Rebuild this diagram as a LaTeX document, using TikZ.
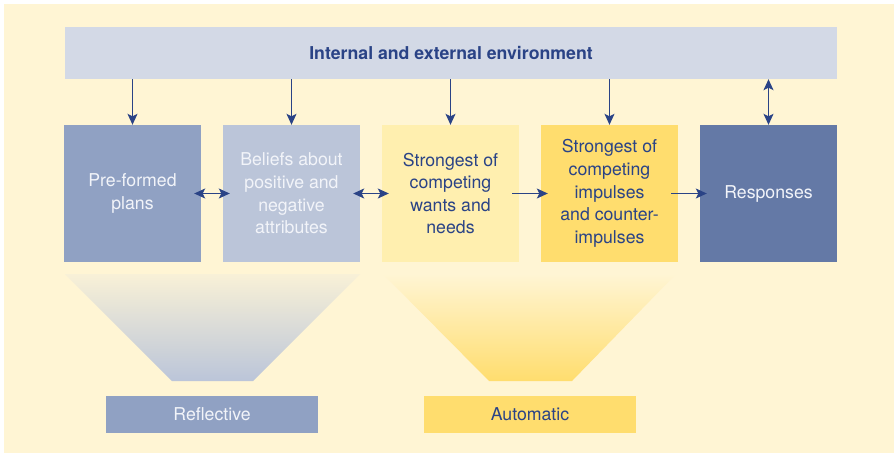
\documentclass[tikz,border=0pt]{standalone}
\usepackage{fontspec}
\setmainfont{TeX Gyre Heros}
\usepackage{tikz}
\usetikzlibrary{arrows.meta,positioning}

\definecolor{cream}{HTML}{FFF5D4}
\definecolor{envblue}{HTML}{D3D9E6}
\definecolor{planblue}{HTML}{90A1C3}
\definecolor{beliefblue}{HTML}{BBC5D9}
\definecolor{wantyellow}{HTML}{FFEFAF}
\definecolor{impulseyellow}{HTML}{FFDD6E}
\definecolor{respblue}{HTML}{6479A6}
\definecolor{ink}{HTML}{2A4386}
\definecolor{paletext}{HTML}{F2F4F9}

\begin{document}
\begin{tikzpicture}[x=1pt, y=-1pt, node distance=159pt,
  every node/.style={font=\fontsize{17.7}{22.6}\selectfont},
  box/.style={rectangle, minimum width=137pt, minimum height=137pt, inner sep=0pt, align=center},
  tag/.style={rectangle, minimum width=212pt, minimum height=37pt, inner sep=0pt},
  link/.style={ink, line width=1.2pt, -{Stealth[length=11pt,width=10pt,inset=2.5pt]}},
  twolink/.style={ink, line width=1.2pt, {Stealth[length=11pt,width=10pt,inset=2.5pt]}-{Stealth[length=11pt,width=10pt,inset=2.5pt]}},
  side/.style={shorten <=-7pt, shorten >=-7pt}]
  \useasboundingbox (0,0) rectangle (894,453);
  \fill[white] (0,0) rectangle (894,453);
  \fill[cream] (4,4) rectangle (894,453);

  \node (env) [rectangle, fill=envblue, minimum width=772pt, minimum height=52pt, inner sep=0pt,
    text=ink, font=\fontsize{17.7}{20}\selectfont\bfseries] at (451,53) {Internal and external environment};

  \node (plans) [box, fill=planblue, text=paletext] at (132.5,193.5) {Pre-formed\\plans};
  \node (beliefs) [box, fill=beliefblue, text=paletext, right of=plans] {Beliefs about\\positive and\\negative\\attributes};
  \node (wants) [box, fill=wantyellow, text=ink, right of=beliefs] {Strongest of\\competing\\wants and\\needs};
  \node (impulses) [box, fill=impulseyellow, text=ink, right of=wants] {Strongest of\\competing\\impulses\\and counter-\\impulses};
  \node (resp) [box, fill=respblue, text=paletext, right of=impulses] {Responses};

  % environment feeds every stage
  \draw[link] (env.south -| plans) -- (plans);
  \draw[link] (env.south -| beliefs) -- (beliefs);
  \draw[link] (env.south -| wants) -- (wants);
  \draw[link] (env.south -| impulses) -- (impulses);
  \draw[twolink] (env.south -| resp) -- (resp);

  \draw[twolink, side] (plans) -- (beliefs);
  \draw[twolink, side] (beliefs) -- (wants);
  \draw[link, side] (wants) -- (impulses);
  \draw[link, side] (impulses) -- (resp);

  % funnels
  \shade[top color=cream!85!envblue, middle color=black!2!gray!45!beliefblue, bottom color=beliefblue]
    (65,274) -- (360,274) -- (253,381) -- (172,381) -- cycle;
  \shade[top color=cream, middle color=cream!40!impulseyellow, bottom color=impulseyellow]
    (383,274) -- (676,274) -- (572,381) -- (489,381) -- cycle;

  \node (reflective) [tag, fill=planblue, text=paletext] at (212,414.5) {Reflective};
  \node (automatic) [tag, fill=impulseyellow, text=ink] at (530,414.5) {Automatic};
\end{tikzpicture}
\end{document}
